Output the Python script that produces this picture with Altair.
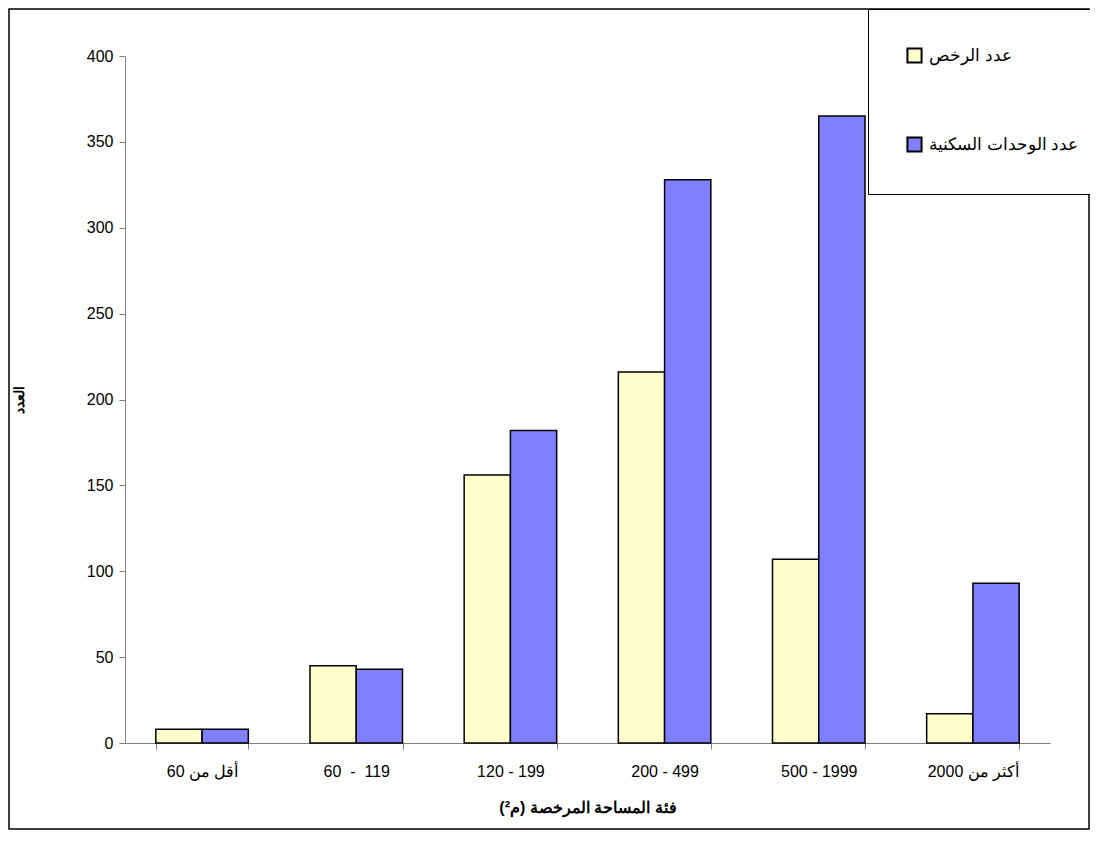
import altair as alt
import pandas as pd

categories = ["60 أقل من", "60\u00a0\u00a0-\u00a0\u00a0119", "120 - 199", "200 - 499", "500 - 1999", "أكثر من 2000"]
licenses = [8, 45, 156, 216, 107, 17]
units = [8, 43, 182, 328, 365, 93]
series = ["عدد الرخص", "عدد الوحدات السكنية"]

rows = []
for c, a, b in zip(categories, licenses, units):
    rows.append({"cat": c, "series": series[0], "v": a})
    rows.append({"cat": c, "series": series[1], "v": b})
df = pd.DataFrame(rows)

F = "Liberation Sans"
bars = alt.Chart(df).mark_bar(stroke="black", strokeWidth=1.5).encode(
    x=alt.X("cat:N", sort=categories, scale=alt.Scale(paddingInner=0.4, paddingOuter=0.2),
            axis=alt.Axis(title="فئة المساحة المرخصة (م²)", labelAngle=0, tickBand="extent",
                          labelFontSize=16, titleFontSize=16, titleFontWeight="bold",
                          labelPadding=14, titlePadding=20, domainColor="#808080", tickColor="#808080",
                          tickSize=6, labelColor="black", titleColor="black")),
    xOffset=alt.XOffset("series:N", sort=series),
    y=alt.Y("v:Q", scale=alt.Scale(domain=[0, 400]),
            axis=alt.Axis(title="العدد", values=list(range(0, 401, 50)), grid=False,
                          labelFontSize=16, titleFontSize=14, titleFontWeight="bold",
                          domainColor="#808080", tickColor="#808080", tickSize=6,
                          labelPadding=6, titlePadding=60, labelColor="black", titleColor="black")),
    color=alt.Color("series:N", sort=series,
                    scale=alt.Scale(domain=series, range=["#FFFFCC", "#8080FF"]),
                    legend=alt.Legend(title=None, orient="none", legendX=743, legendY=-47,
                                      fillColor="white", strokeColor="black", padding=38,
                                      labelFontSize=17, labelFont=F, symbolType="square",
                                      symbolSize=200, symbolStrokeColor="black", symbolStrokeWidth=2,
                                      rowPadding=66, labelOffset=6, labelLimit=300)),
)

border = alt.Chart(pd.DataFrame({"a": [0]})).mark_rect(fill=None, stroke="black", strokeWidth=1.5, clip=False).encode(
    x=alt.value(-116), x2=alt.value(964), y=alt.value(-47), y2=alt.value(773)
)

chart = alt.layer(border, bars).properties(
    width=925, height=687, autosize=alt.AutoSizeParams(type="none"),
    padding={"left": 117, "top": 48, "right": 40, "bottom": 96}
).configure(font=F).configure_view(strokeWidth=0, stroke=None)

chart.save("out.html", embed_options={"renderer": "svg", "actions": False})
